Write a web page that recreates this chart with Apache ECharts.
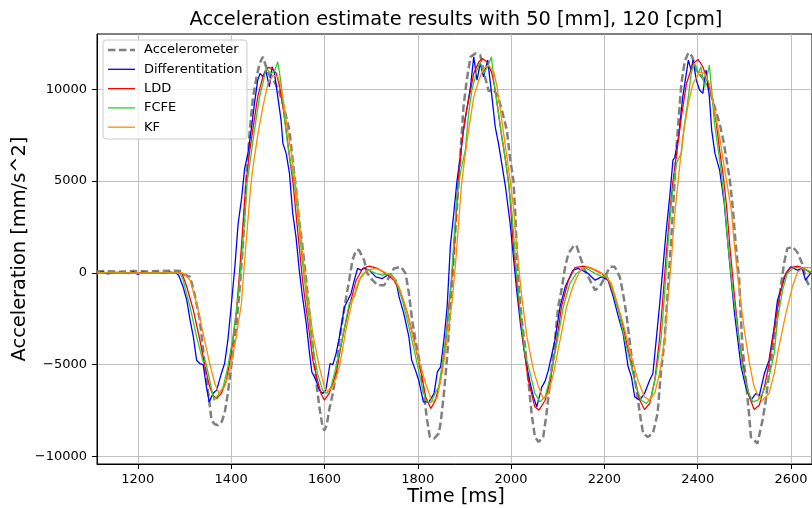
<!DOCTYPE html>
<html>
<head>
<meta charset="utf-8">
<script src="https://cdn.jsdelivr.net/npm/echarts@6/dist/echarts.min.js"></script>
<style>html,body{margin:0;padding:0;background:#fff}#c{width:812px;height:508px}</style>
</head>
<body>
<div id="c"></div>
<script>
const seriesNames = ['Accelerometer', 'Differentitation', 'LDD', 'FCFE', 'KF'];
const xTicks = [1200, 1400, 1600, 1800, 2000, 2200, 2400, 2600];
const yTicks = [-10000, -5000, 0, 5000, 10000];

// [time ms, acceleration mm/s^2]
const accelerometer = [[1112,80],[1130,100],[1160,60],[1190,100],[1220,80],[1250,100],[1280,120],[1293,100],[1300,-100],[1312,-220],[1322,-1200],[1333,-2580],[1344,-5120],[1351,-6570],[1358,-8030],[1365,-8250],[1372,-8300],[1380,-8100],[1386,-7650],[1393,-6570],[1400,-5120],[1411,-2940],[1418,-940],[1425,1420],[1433,5230],[1440,7780],[1447,9590],[1454,10600],[1461,11410],[1468,11770],[1475,11230],[1483,10700],[1493,10400],[1503,9900],[1511,9200],[1518,8500],[1525,7780],[1532,6100],[1539,4600],[1546,2800],[1553,1420],[1561,-400],[1568,-2210],[1575,-4030],[1582,-5850],[1589,-7300],[1596,-8390],[1600,-8580],[1605,-8300],[1610,-7480],[1618,-6570],[1625,-5480],[1632,-3670],[1643,-1850],[1653,-400],[1660,690],[1668,1240],[1674,1240],[1685,690],[1692,-30],[1703,-400],[1714,-670],[1728,-670],[1739,-220],[1749,240],[1764,330],[1774,-30],[1781,-1120],[1788,-2580],[1795,-3670],[1806,-5120],[1813,-6570],[1820,-8030],[1826,-8940],[1835,-9030],[1845,-8750],[1849,-8200],[1856,-6570],[1863,-4580],[1870,-1850],[1877,870],[1884,3600],[1892,6690],[1898,9050],[1905,10500],[1913,11770],[1924,11960],[1934,11860],[1943,10800],[1952,9900],[1962,10000],[1972,9600],[1980,8900],[1991,7780],[1998,6200],[2005,5050],[2009,3240],[2012,1420],[2016,-580],[2023,-2580],[2030,-4030],[2037,-5850],[2044,-7660],[2051,-8940],[2059,-9210],[2069,-8940],[2076,-7660],[2084,-5850],[2094,-3670],[2101,-1850],[2108,-940],[2116,330],[2123,1060],[2133,1420],[2140,1510],[2148,870],[2158,150],[2169,-400],[2180,-940],[2190,-760],[2201,-220],[2212,330],[2222,330],[2233,-220],[2240,-1120],[2247,-2210],[2254,-3670],[2261,-5120],[2268,-6210],[2276,-7660],[2283,-8750],[2293,-8940],[2304,-8750],[2314,-7660],[2321,-5480],[2329,-3670],[2336,-940],[2344,2150],[2350,4800],[2355,7000],[2360,8700],[2365,10300],[2372,11500],[2380,12000],[2388,11800],[2398,11000],[2411,10600],[2420,10300],[2430,9600],[2439,8800],[2447,8140],[2455,7230],[2462,6140],[2469,5050],[2475,3600],[2479,2330],[2482,1420],[2489,-400],[2492,-2210],[2496,-4030],[2503,-5850],[2510,-7660],[2514,-8940],[2528,-9300],[2539,-8030],[2546,-6940],[2553,-5480],[2564,-3670],[2571,-2210],[2578,-760],[2585,510],[2592,1330],[2603,1420],[2613,1150],[2624,510],[2633,-400],[2640,-760],[2646,-900]];

const differentiation = [[1112,0],[1125,50],[1135,-50],[1150,0],[1165,30],[1180,-40],[1190,60],[1200,-80],[1210,40],[1225,0],[1240,30],[1255,-30],[1270,40],[1280,0],[1287,-100],[1297,-760],[1305,-1490],[1312,-2580],[1319,-3490],[1326,-4760],[1333,-4940],[1340,-5000],[1347,-6200],[1353,-7030],[1361,-6570],[1369,-6390],[1379,-5480],[1386,-4940],[1393,-3670],[1400,-1850],[1408,330],[1415,2690],[1422,3960],[1429,5690],[1436,6510],[1443,7780],[1450,9230],[1457,10500],[1462,10870],[1468,10680],[1474,11050],[1482,10140],[1488,11230],[1493,10870],[1500,9590],[1507,8320],[1511,7050],[1518,6510],[1525,5420],[1532,3240],[1539,1960],[1546,150],[1553,-1310],[1561,-2760],[1568,-4390],[1573,-5400],[1582,-5850],[1589,-6390],[1596,-6570],[1603,-6390],[1612,-4940],[1618,-5000],[1625,-4390],[1632,-3500],[1643,-1850],[1650,-1490],[1657,-1120],[1664,-400],[1671,240],[1678,150],[1685,240],[1696,150],[1710,-220],[1724,-310],[1735,-130],[1746,-220],[1753,-400],[1760,-1310],[1770,-2210],[1781,-3490],[1787,-4760],[1795,-5300],[1802,-5850],[1812,-7030],[1824,-7030],[1835,-6570],[1842,-5400],[1849,-5120],[1856,-3670],[1863,-1850],[1870,1500],[1877,3200],[1884,5000],[1891,6300],[1898,7780],[1906,9050],[1913,10140],[1920,11770],[1927,10500],[1934,11410],[1941,10680],[1950,11590],[1959,9590],[1966,7960],[1973,7050],[1980,5960],[1988,4690],[1998,2690],[2005,870],[2012,-940],[2020,-2760],[2027,-4030],[2034,-5120],[2041,-6030],[2048,-6760],[2055,-7300],[2060,-6800],[2066,-6210],[2073,-5900],[2080,-5300],[2094,-3670],[2105,-1850],[2116,-760],[2126,-220],[2133,150],[2144,240],[2155,100],[2165,-30],[2180,-400],[2194,-220],[2208,-400],[2219,-1310],[2230,-2400],[2240,-3300],[2251,-5120],[2258,-5670],[2265,-6760],[2276,-6940],[2286,-6570],[2297,-5850],[2304,-5480],[2311,-3670],[2318,-1850],[2325,150],[2332,2150],[2340,4140],[2347,6140],[2351,6300],[2359,7410],[2368,9590],[2380,11590],[2386,11050],[2390,11590],[2397,10500],[2404,9960],[2411,9780],[2418,11050],[2425,9590],[2430,7780],[2437,6510],[2447,5600],[2450,5050],[2457,3780],[2464,1780],[2472,-400],[2479,-2210],[2486,-3670],[2493,-5120],[2503,-6210],[2514,-6940],[2525,-6570],[2532,-6700],[2543,-5480],[2553,-4760],[2564,-2940],[2571,-1490],[2578,-940],[2589,-30],[2599,330],[2614,150],[2624,240],[2631,-400],[2636,-220],[2646,100]];

const ldd = [[1112,0],[1290,0],[1295,-50],[1305,-760],[1319,-2030],[1333,-3670],[1344,-5120],[1354,-6210],[1362,-6700],[1369,-6850],[1379,-6570],[1390,-5850],[1400,-4390],[1411,-2210],[1418,-30],[1425,2510],[1431,4690],[1438,6300],[1447,7900],[1457,9590],[1468,10680],[1479,11190],[1488,11140],[1497,10870],[1504,10140],[1511,9050],[1518,7780],[1525,6320],[1532,5050],[1539,3240],[1546,1400],[1553,-400],[1564,-2580],[1575,-4760],[1585,-5850],[1593,-6600],[1600,-6940],[1610,-6570],[1625,-5480],[1639,-3500],[1653,-1850],[1668,-400],[1682,240],[1696,370],[1714,240],[1731,-30],[1749,-400],[1764,-1120],[1778,-2210],[1792,-3670],[1806,-5300],[1817,-6760],[1828,-7390],[1838,-6940],[1849,-5850],[1860,-3670],[1867,-1700],[1874,0],[1881,2690],[1888,5420],[1895,7230],[1902,8500],[1909,9400],[1920,10870],[1931,11500],[1939,11680],[1948,11500],[1959,10870],[1966,9960],[1973,8690],[1980,7410],[1988,6140],[1995,4870],[1998,3960],[2005,1420],[2016,-1490],[2027,-4030],[2037,-5850],[2051,-7300],[2060,-7480],[2073,-6940],[2084,-5850],[2098,-3670],[2108,-1850],[2123,-400],[2137,290],[2155,370],[2172,240],[2194,-30],[2208,-400],[2222,-1310],[2237,-2580],[2251,-4210],[2265,-5850],[2276,-6940],[2286,-7450],[2297,-7120],[2308,-5850],[2318,-3670],[2325,-1500],[2332,800],[2340,3200],[2347,5000],[2354,6320],[2365,8500],[2376,10320],[2390,11410],[2401,11630],[2411,11230],[2421,10500],[2432,9410],[2440,8140],[2447,6690],[2455,5230],[2462,3600],[2469,1420],[2479,-1310],[2489,-3670],[2500,-5480],[2511,-6760],[2521,-7450],[2532,-7210],[2543,-6210],[2553,-4940],[2564,-3120],[2574,-1490],[2585,-220],[2599,290],[2614,370],[2628,240],[2639,50],[2646,-100]];

const fcfe = [[1112,0],[1150,40],[1200,-30],[1250,30],[1290,0],[1297,-400],[1312,-1850],[1326,-3490],[1340,-4850],[1345,-4800],[1354,-5850],[1363,-6940],[1372,-6670],[1383,-6210],[1393,-5120],[1404,-3490],[1415,-1310],[1422,690],[1429,2870],[1434,4870],[1440,5960],[1450,7780],[1461,9590],[1468,10320],[1475,11140],[1486,10870],[1493,11000],[1500,11500],[1507,10320],[1514,8500],[1521,7050],[1529,5780],[1536,4870],[1543,3240],[1553,510],[1564,-1850],[1575,-4030],[1585,-5480],[1596,-6390],[1605,-6570],[1614,-6210],[1625,-5120],[1639,-3490],[1653,-1670],[1664,-1310],[1678,-220],[1692,190],[1710,-30],[1724,-130],[1742,-30],[1753,-400],[1767,-1490],[1781,-2940],[1794,-4390],[1806,-5850],[1817,-6940],[1828,-7080],[1837,-6570],[1845,-6210],[1856,-4390],[1865,-2580],[1872,-400],[1878,1960],[1884,4140],[1891,5420],[1902,6690],[1909,8690],[1916,9960],[1927,11050],[1934,11500],[1941,10870],[1950,11230],[1958,11770],[1963,10500],[1970,9230],[1977,7960],[1984,6870],[1991,5600],[2002,3240],[2010,510],[2020,-2210],[2030,-4390],[2041,-5480],[2051,-6570],[2062,-7030],[2073,-6760],[2084,-5670],[2098,-3850],[2112,-1850],[2126,-580],[2140,-30],[2158,290],[2180,-30],[2197,-220],[2205,-100],[2215,-760],[2230,-2030],[2244,-3670],[2258,-5120],[2268,-6210],[2279,-6940],[2290,-7120],[2301,-6760],[2311,-5480],[2322,-3490],[2329,-1120],[2336,1420],[2344,3960],[2354,5960],[2365,6510],[2372,8140],[2380,9590],[2386,10870],[2392,11410],[2401,10870],[2407,11230],[2415,10140],[2425,11320],[2430,9960],[2436,8140],[2443,6870],[2450,5600],[2457,3960],[2464,1780],[2475,-940],[2486,-3120],[2496,-5120],[2507,-6390],[2518,-7030],[2529,-6940],[2539,-6570],[2553,-5670],[2564,-4390],[2571,-2580],[2582,-940],[2592,-30],[2606,290],[2621,290],[2635,150],[2646,0]];

const kf = [[1112,0],[1295,0],[1300,-60],[1312,-400],[1326,-1670],[1340,-3300],[1354,-4940],[1365,-6030],[1374,-6570],[1386,-6210],[1397,-5300],[1411,-3490],[1422,-1670],[1429,690],[1436,2870],[1442,4700],[1447,5800],[1457,7500],[1468,9050],[1479,10320],[1490,10770],[1500,10680],[1507,10140],[1514,9050],[1521,7780],[1529,6510],[1536,5230],[1543,3600],[1553,1060],[1564,-1310],[1575,-3300],[1589,-5120],[1600,-6210],[1607,-6480],[1618,-6210],[1632,-5120],[1646,-3100],[1660,-1490],[1674,-400],[1692,150],[1710,240],[1728,50],[1746,-220],[1760,-760],[1774,-1850],[1788,-3300],[1802,-4760],[1817,-6030],[1828,-6850],[1832,-7030],[1842,-6760],[1852,-5480],[1863,-3670],[1874,-1490],[1881,510],[1888,2870],[1894,4870],[1900,6100],[1909,7780],[1920,9590],[1931,10500],[1941,11140],[1952,11320],[1963,10950],[1970,10140],[1977,8870],[1984,7600],[1991,6320],[1998,5050],[2005,3600],[2012,1420],[2023,-1310],[2034,-3490],[2048,-5300],[2059,-6210],[2069,-6850],[2080,-6570],[2091,-5480],[2105,-3670],[2119,-1850],[2133,-700],[2140,-300],[2151,240],[2165,330],[2183,150],[2201,-130],[2215,-580],[2230,-1850],[2244,-3120],[2258,-4580],[2272,-5850],[2286,-6760],[2297,-6940],[2308,-6570],[2318,-5480],[2329,-3670],[2336,-1490],[2344,870],[2351,3240],[2359,5230],[2368,7410],[2380,9230],[2390,10320],[2404,10950],[2415,10870],[2425,10320],[2436,8870],[2447,7410],[2457,5780],[2464,4690],[2472,3420],[2479,1420],[2489,-940],[2500,-3120],[2511,-4940],[2521,-6210],[2532,-6850],[2539,-6940],[2553,-6570],[2564,-5480],[2574,-4030],[2589,-2210],[2603,-760],[2614,50],[2628,290],[2639,290],[2646,250]];

const FONT = 'DejaVu Sans';
const chart = echarts.init(document.getElementById('c'), null, {renderer: 'canvas'});
const dataList = [accelerometer, differentiation, ldd, fcfe, kf];
const styles = [
  {color: '#808080', width: 2.5, type: [7.5, 3.5]},
  {color: '#0000ff', width: 1.3, type: 'solid'},
  {color: '#ff0000', width: 1.3, type: 'solid'},
  {color: '#32cd32', width: 1.3, type: 'solid'},
  {color: '#ff8c00', width: 1.3, type: 'solid'}
];
const fmt = v => (v < 0 ? '\u2212' + Math.abs(v) : String(v));

// legend drawn as graphic elements (matplotlib style)
const legendTop = 40, legendLeft = 103, rowH = 19.3;
const legendEls = [{
  type: 'rect', z: 100,
  shape: {x: legendLeft, y: legendTop, width: 144, height: 99, r: 3},
  style: {fill: 'rgba(255,255,255,0.8)', stroke: '#cccccc', lineWidth: 1}
}];
seriesNames.forEach((n, i) => {
  const cy = legendTop + 10 + i * rowH;
  legendEls.push({
    type: 'line', z: 101,
    shape: {x1: 108, y1: cy, x2: 135, y2: cy},
    style: {stroke: styles[i].color, lineWidth: styles[i].width, lineDash: Array.isArray(styles[i].type) ? styles[i].type : null, lineCap: 'butt'}
  });
  legendEls.push({
    type: 'text', z: 101, x: 144, y: cy,
    style: {text: n, font: '13px "DejaVu Sans"', fill: '#000', textAlign: 'left', textVerticalAlign: 'middle'}
  });
});

chart.setOption({
  animation: false,
  backgroundColor: '#ffffff',
  textStyle: {fontFamily: FONT},
  grid: {left: 97, top: 34, width: 718, height: 430, show: true, borderColor: '#000', borderWidth: 1, backgroundColor: 'transparent'},
  xAxis: {
    type: 'value', min: 1112.5, max: 2645,
    axisLine: {show: true, onZero: false, lineStyle: {color: '#000', width: 1}},
    axisTick: {show: true, length: 5, lineStyle: {color: '#000'}, customValues: xTicks},
    axisLabel: {customValues: xTicks, color: '#000', fontSize: 13, fontFamily: FONT, margin: 9, formatter: v => String(v)},
    splitLine: {show: true, lineStyle: {color: '#b0b0b0', width: 0.8}}
  },
  yAxis: {
    type: 'value', min: -10415, max: 13015,
    axisLine: {show: true, onZero: false, lineStyle: {color: '#000', width: 1}},
    axisTick: {show: true, length: 5, lineStyle: {color: '#000'}, customValues: yTicks},
    axisLabel: {customValues: yTicks, color: '#000', fontSize: 13, fontFamily: FONT, margin: 10, formatter: fmt},
    splitLine: {show: true, lineStyle: {color: '#b0b0b0', width: 0.8}}
  },
  legend: {show: false},
  graphic: [
    {type: 'text', x: 456, y: 20, style: {text: 'Acceleration estimate results with 50 [mm], 120 [cpm]', font: '19.4px "DejaVu Sans"', fill: '#000', textAlign: 'center', textVerticalAlign: 'middle'}},
    {type: 'text', x: 456, y: 497, style: {text: 'Time [ms]', font: '19.4px "DejaVu Sans"', fill: '#000', textAlign: 'center', textVerticalAlign: 'middle'}},
    {type: 'text', x: 20, y: 249, rotation: Math.PI / 2, style: {text: 'Acceleration [mm/s^2]', font: '19.4px "DejaVu Sans"', fill: '#000', textAlign: 'center', textVerticalAlign: 'middle'}}
  ].concat(legendEls),
  series: dataList.map((d, i) => ({
    name: seriesNames[i], type: 'line', data: d, showSymbol: false, symbol: 'none',
    clip: true, z: 2 + i,
    itemStyle: {color: styles[i].color},
    lineStyle: {color: styles[i].color, width: styles[i].width, type: styles[i].type, cap: 'butt'}
  }))
});
</script>
</body>
</html>
